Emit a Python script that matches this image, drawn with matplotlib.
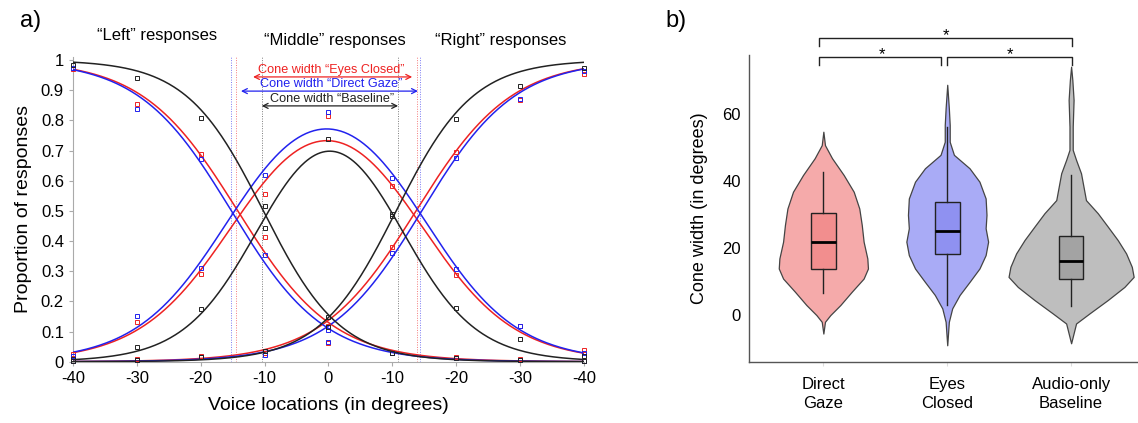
import numpy as np
import matplotlib
matplotlib.use("Agg")
import matplotlib.pyplot as plt

plt.rcParams['font.family'] = ['Liberation Sans', 'DejaVu Sans']

# ---- panel a: response proportions ----
locations = [-40, -30, -20, -10, 0, 10, 20, 30, 40]
loc_labels = ["-40", "-30", "-20", "-10", "0", "-10", "-20", "-30", "-40"]
conditions = ["Eyes Closed", "Direct Gaze", "Baseline"]
cond_colors = {"Eyes Closed": "#ee2222", "Direct Gaze": "#2222ee", "Baseline": "#222222"}

# observed proportions ("left", "middle", "right") per location
left_obs = {
    "Eyes Closed": [0.970, 0.854, 0.689, 0.414, 0.120, 0.030, 0.015, 0.010, 0.003],
    "Direct Gaze": [0.975, 0.839, 0.671, 0.354, 0.105, 0.028, 0.012, 0.005, 0.002],
    "Baseline":    [0.985, 0.941, 0.807, 0.517, 0.115, 0.028, 0.011, 0.006, 0.002],
}
middle_obs = {
    "Eyes Closed": [0.025, 0.133, 0.290, 0.555, 0.814, 0.582, 0.286, 0.118, 0.039],
    "Direct Gaze": [0.020, 0.151, 0.311, 0.620, 0.829, 0.610, 0.307, 0.120, 0.030],
    "Baseline":    [0.010, 0.050, 0.174, 0.442, 0.737, 0.484, 0.179, 0.076, 0.018],
}
right_obs = {
    "Eyes Closed": [0.004, 0.009, 0.018, 0.028, 0.063, 0.381, 0.696, 0.869, 0.954],
    "Direct Gaze": [0.003, 0.005, 0.016, 0.022, 0.065, 0.361, 0.676, 0.870, 0.965],
    "Baseline":    [0.001, 0.006, 0.017, 0.036, 0.149, 0.488, 0.804, 0.915, 0.972],
}

# fitted psychometric parameters: slope, left boundary, right boundary
fit_slope = {"Eyes Closed": 0.134, "Direct Gaze": 0.1375, "Baseline": 0.166}
fit_left = {"Eyes Closed": -14.2, "Direct Gaze": -15.2, "Baseline": -10.2}
fit_right = {"Eyes Closed": 13.7, "Direct Gaze": 14.6, "Baseline": 10.6}

# cone width edges (dotted lines)
cone_edges = {"Eyes Closed": (-14.5, 13.9), "Direct Gaze": (-15.3, 14.4), "Baseline": (-10.45, 10.9)}
cone_labels = {"Eyes Closed": "Cone width \u201cEyes Closed\u201d",
               "Direct Gaze": "Cone width \u201cDirect Gaze\u201d",
               "Baseline": "Cone width \u201cBaseline\u201d"}
arrow_span = {"Eyes Closed": (-11.8, 13.1), "Direct Gaze": (-13.7, 14.0), "Baseline": (-10.45, 10.9)}
arrow_y = {"Eyes Closed": 0.944, "Direct Gaze": 0.897, "Baseline": 0.848}

# ---- panel b: cone widths ----
groups = ["Direct\nGaze", "Eyes\nClosed", "Audio-only\nBaseline"]
violin_fill = ["#f5aaaa", "#a9abf6", "#bebebe"]
box_fill = ["#f28e8e", "#8f91f1", "#a3a3a3"]
box_stats = [
    dict(med=21.9, q1=13.9, q3=30.5, whislo=6.5, whishi=42.8),
    dict(med=25.2, q1=18.2, q3=33.8, whislo=3.0, whishi=56.2),
    dict(med=16.1, q1=10.7, q3=23.7, whislo=2.7, whishi=41.8),
]
# violin outline: (cone width, half width)
violin_profiles = [
    [(-5.5, 0.0), (-2.0, 0.013), (0.0, 0.056), (3.0, 0.137), (7.0, 0.23), (10.9, 0.325),
     (13.9, 0.36), (16.9, 0.355), (21.9, 0.325), (26.9, 0.31), (31.8, 0.29), (36.8, 0.245),
     (41.8, 0.164), (46.8, 0.07), (50.7, 0.013), (54.7, 0.0)],
    [(-9.0, 0.0), (-2.0, 0.013), (2.0, 0.04), (6.0, 0.10), (9.9, 0.18), (13.9, 0.26),
     (17.9, 0.31), (21.9, 0.33), (25.9, 0.31), (29.9, 0.317), (34.8, 0.31), (39.8, 0.26),
     (43.8, 0.18), (47.8, 0.054), (51.7, 0.02), (56.7, 0.02), (61.7, 0.013), (68.7, 0.0)],
    [(-8.4, 0.0), (-2.5, 0.04), (0.5, 0.148), (4.5, 0.296), (8.4, 0.43), (11.4, 0.505),
     (14.4, 0.49), (18.4, 0.444), (22.4, 0.376), (26.4, 0.296), (30.4, 0.215), (34.3, 0.12),
     (38.3, 0.10), (42.3, 0.08), (46.3, 0.04), (49.3, 0.013), (56.2, 0.013), (64.2, 0.02),
     (70.1, 0.01), (74.1, 0.0)],
]
# significance brackets: start, end, height, star x
brackets = [(0.962, 1.95, 77.1, 1.47), (2.0, 3.008, 77.1, 2.51), (0.962, 3.008, 82.8, 1.99)]

fig = plt.figure(figsize=(11.38, 4.23), dpi=100)

# ---------------- panel a ----------------
ax = fig.add_axes([0.0641, 0.1449, 0.4491, 0.7203])
xs = np.linspace(-40, 40, 400)
axis_gray = "#aaaaaa"
for c in conditions:
    col = cond_colors[c]
    k = fit_slope[c]
    p_left = 1.0 / (1.0 + np.exp(k * (xs - fit_left[c])))
    p_right = 1.0 / (1.0 + np.exp(-k * (xs - fit_right[c])))
    p_mid = 1.0 - p_left - p_right
    for p in (p_left, p_mid, p_right):
        ax.plot(xs, p, color=col, lw=1.1, zorder=3)
    for obs in (left_obs, middle_obs, right_obs):
        ax.plot(locations, obs[c], 's', ms=3.2, mfc='none', mec=col, mew=0.7,
                clip_on=False, zorder=4)
    for e in cone_edges[c]:
        ax.axvline(e, color=col, lw=0.7, ls=(0, (1, 1.5)), alpha=0.6, zorder=1)
    a0, a1 = arrow_span[c]
    ay = arrow_y[c]
    ax.annotate("", xy=(a0, ay), xytext=(a1, ay),
                arrowprops=dict(arrowstyle="<->", color=col, lw=0.9,
                                shrinkA=0, shrinkB=0, mutation_scale=9))
    ax.text(0.5, ay + 0.004, cone_labels[c], color=col, fontsize=9.1,
            ha="center", va="bottom")

ax.set_xlim(-40, 40)
ax.set_ylim(0, 1.01)
ax.set_xticks(locations)
ax.set_xticklabels(loc_labels)
ax.set_yticks(np.arange(0, 1.01, 0.1))
ax.set_yticklabels(["0", "0.1", "0.2", "0.3", "0.4", "0.5", "0.6", "0.7", "0.8", "0.9", "1"])
ax.tick_params(labelsize=12, color=axis_gray, length=3, width=0.8)
for s in ("top", "right"):
    ax.spines[s].set_visible(False)
for s in ("left", "bottom"):
    ax.spines[s].set_color(axis_gray)
    ax.spines[s].set_linewidth(0.8)
ax.set_xlabel("Voice locations (in degrees)", fontsize=14, labelpad=8)
ax.set_ylabel("Proportion of responses", fontsize=14, labelpad=6)

fig.text(0.138, 0.915, "\u201cLeft\u201d responses", fontsize=12, ha="center", va="center")
fig.text(0.294, 0.905, "\u201cMiddle\u201d responses", fontsize=12, ha="center", va="center")
fig.text(0.440, 0.905, "\u201cRight\u201d responses", fontsize=12, ha="center", va="center")
fig.text(0.018, 0.95, "a)", fontsize=17, ha="left", va="center")

# ---------------- panel b ----------------
bx = fig.add_axes([0.6582, 0.1449, 0.3418, 0.7252])
for i, prof in enumerate(violin_profiles):
    pos = i + 1
    yv = np.array([p[0] for p in prof])
    hw = np.array([p[1] for p in prof])
    bx.fill_betweenx(yv, pos - hw, pos + hw, facecolor=violin_fill[i],
                     edgecolor="#444444", lw=0.9, zorder=2)

bxp_stats = [dict(s, fliers=[]) for s in box_stats]
bp = bx.bxp(bxp_stats, positions=[1, 2, 3], widths=0.2, showcaps=False,
            patch_artist=True, manage_ticks=False, zorder=3,
            boxprops=dict(edgecolor="#222222", linewidth=1.0),
            whiskerprops=dict(color="#222222", linewidth=1.0),
            medianprops=dict(color="#000000", linewidth=2.0))
for patch, fc in zip(bp["boxes"], box_fill):
    patch.set_facecolor(fc)

for a, b, h, sx in brackets:
    bx.plot([a, a, b, b], [h - 2.4, h, h, h - 2.4], color="#222222", lw=1.0,
            clip_on=False)
    bx.text(sx, h - 0.7, "*", fontsize=12, ha="center", va="baseline")

bx.set_xlim(0.4, 3.54)
bx.set_ylim(-13.9, 77.6)
bx.set_yticks([0, 20, 40, 60])
bx.set_xticks([1, 2, 3])
bx.set_xticklabels(groups, linespacing=1.3)
bx.tick_params(axis="y", length=0, labelsize=12, pad=6)
bx.tick_params(axis="x", length=3, color="#dddddd", labelsize=12, pad=8)
for s in ("top", "right"):
    bx.spines[s].set_visible(False)
for s in ("left", "bottom"):
    bx.spines[s].set_color("#555555")
    bx.spines[s].set_linewidth(1.0)
bx.set_ylabel("Cone width (in degrees)", fontsize=13, labelpad=10)
fig.text(0.585, 0.95, "b)", fontsize=17, ha="left", va="center")

fig.savefig("out.png", dpi=100)
